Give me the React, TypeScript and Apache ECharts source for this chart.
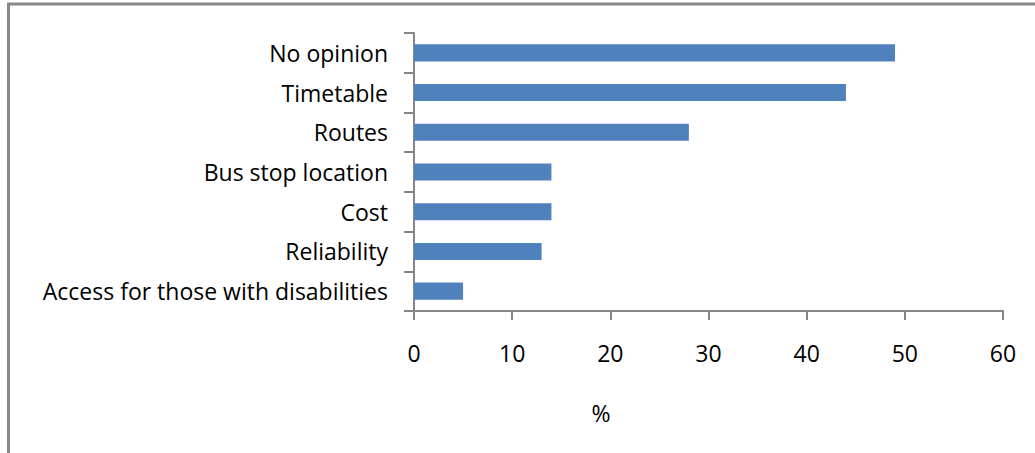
import React, { useEffect, useRef } from "react";
import * as echarts from "echarts";

const categories = [
  "No opinion",
  "Timetable",
  "Routes",
  "Bus stop location",
  "Cost",
  "Reliability",
  "Access for those with disabilities",
];
const values = [49, 44, 28, 14, 14, 13, 5];
const xTicks = { min: 0, max: 60, interval: 10 };
const axisName = "%";

export default function App() {
  const ref = useRef<HTMLDivElement>(null);
  useEffect(() => {
    if (!ref.current) return;
    const chart = echarts.init(ref.current, undefined, { renderer: "svg" });
    const font = "'Open Sans', 'Liberation Sans', sans-serif";
    const gray = "#868686";
    chart.setOption({
      animation: false,
      backgroundColor: "#ffffff",
      grid: { left: 414, top: 33, right: 32, bottom: 142, containLabel: false },
      xAxis: {
        type: "value",
        min: xTicks.min,
        max: xTicks.max,
        interval: xTicks.interval,
        splitLine: { show: false },
        axisLine: { show: true, lineStyle: { color: gray, width: 2 } },
        axisTick: { show: true, length: 9, lineStyle: { color: gray, width: 2 } },
        axisLabel: { fontFamily: font, fontSize: 23, color: "#000", margin: 30 },
      },
      yAxis: {
        type: "category",
        data: categories,
        inverse: true,
        axisLine: { show: true, lineStyle: { color: gray, width: 2 } },
        axisTick: { show: true, length: 10, alignWithLabel: false, lineStyle: { color: gray, width: 2 } },
        axisLabel: { fontFamily: font, fontSize: 23, color: "#000", margin: 26 },
      },
      series: [
        {
          type: "bar",
          data: values,
          barWidth: "43%",
          itemStyle: { color: "#4F81BD" },
        },
      ],
      graphic: [
        { type: "line", shape: { x1: 7, y1: 4, x2: 1035, y2: 4 }, style: { stroke: "#888888", lineWidth: 3 } },
        { type: "line", shape: { x1: 8.5, y1: 3, x2: 8.5, y2: 453 }, style: { stroke: "#888888", lineWidth: 3 } },
        {
          type: "text",
          x: 601,
          y: 413,
          style: { text: axisName, fontFamily: font, fontSize: 23, fill: "#000", textAlign: "center", textVerticalAlign: "middle" },
        },
      ],
    });
    return () => chart.dispose();
  }, []);
  return <div ref={ref} style={{ position: "fixed", left: 0, top: 0, width: 1035, height: 453 }} />;
}
